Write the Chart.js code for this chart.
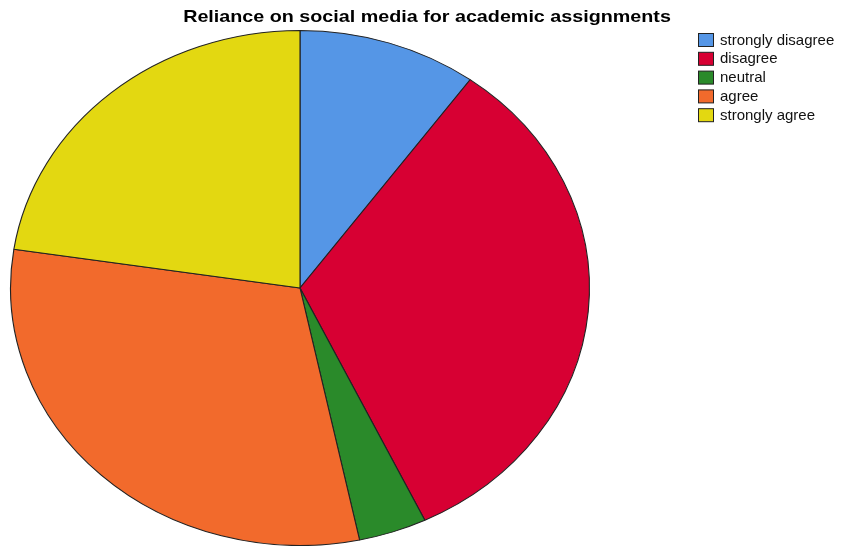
<!DOCTYPE html>
<html>
<head>
<meta charset="utf-8">
<script src="https://cdn.jsdelivr.net/npm/chart.js@4"></script>
<style>
  html, body { margin: 0; padding: 0; background: #fff; }
  #wrap { width: 843px; height: 546px; position: relative; }
</style>
</head>
<body>
<div id="wrap"><canvas id="c" width="843" height="546"></canvas></div>
<script>
// Survey responses (percent of respondents)
const categories = ["strongly disagree", "disagree", "neutral", "agree", "strongly agree"];
const percentages = [10.0, 32.9, 3.8, 30.7, 22.6];
const sliceColors = ["#5596e6", "#d70033", "#2a8a2a", "#f26a2c", "#e3d811"];
const chartTitle = "Reliance on social media for academic assignments";

// Pie drawn as an ellipse: centre and horizontal stretch
const pieCentreX = 300;
const pieStretchX = 290 / 258;

const ellipsePlugin = {
  id: "ellipse",
  beforeDatasetsDraw(chart) {
    const a = chart.chartArea;
    const cx = (a.left + a.right) / 2;
    const ctx = chart.ctx;
    ctx.save();
    ctx.translate(pieCentreX, 0);
    ctx.scale(pieStretchX, 1);
    ctx.translate(-cx, 0);
  },
  afterDatasetsDraw(chart) {
    chart.ctx.restore();
  }
};

// Title across the top (slightly wide face) and legend in the top right corner
const textPlugin = {
  id: "titleAndLegend",
  afterDraw(chart) {
    const ctx = chart.ctx;
    ctx.save();
    ctx.fillStyle = "#000";
    ctx.font = "bold 17px 'Liberation Sans', Arial, sans-serif";
    ctx.textAlign = "center";
    ctx.textBaseline = "alphabetic";
    ctx.translate(427, 22);
    ctx.scale(1.16, 1);
    ctx.fillText(chartTitle, 0, 0);
    ctx.restore();

    const ds = chart.data.datasets[0];
    ctx.save();
    ctx.font = "15px 'Liberation Sans', Arial, sans-serif";
    ctx.textBaseline = "middle";
    chart.data.labels.forEach((lab, i) => {
      const y = 40 + i * 18.8;
      ctx.fillStyle = ds.backgroundColor[i];
      ctx.fillRect(698.5, y - 6.5, 15, 13);
      ctx.strokeStyle = "#222";
      ctx.lineWidth = 1;
      ctx.strokeRect(698.5, y - 6.5, 15, 13);
      ctx.fillStyle = "#111";
      ctx.fillText(lab, 720, y + 0.5);
    });
    ctx.restore();
  }
};

new Chart(document.getElementById("c"), {
  type: "pie",
  data: {
    labels: categories,
    datasets: [{
      data: percentages,
      backgroundColor: sliceColors,
      borderColor: "#222",
      borderWidth: 1
    }]
  },
  options: {
    responsive: false,
    animation: false,
    layout: { padding: { left: 0, top: 30, bottom: 0, right: 0 } },
    plugins: {
      legend: { display: false },
      tooltip: { enabled: false },
      title: { display: false }
    }
  },
  plugins: [ellipsePlugin, textPlugin]
});
</script>
</body>
</html>
